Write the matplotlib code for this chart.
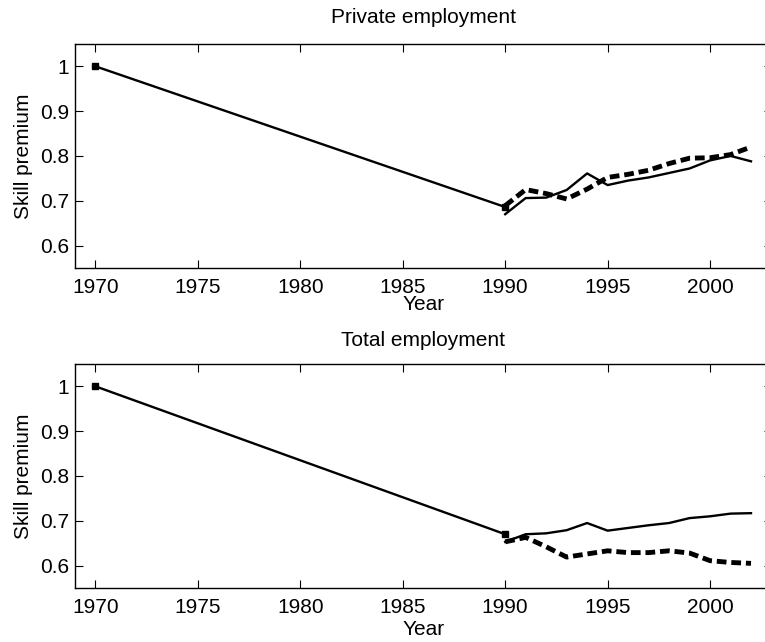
import numpy as np
import matplotlib.pyplot as plt

plt.rcParams['font.family'] = ['Liberation Sans', 'DejaVu Sans']

years = [1990, 1991, 1992, 1993, 1994, 1995, 1996, 1997, 1998, 1999, 2000, 2001, 2002]
anchor_years = [1970, 1990]

# Private employment
priv_anchor = [1.0, 0.686]
priv_solid = [0.670, 0.706, 0.707, 0.724, 0.761, 0.735, 0.745, 0.752, 0.762, 0.772, 0.790, 0.800, 0.788]
priv_dashed = [0.689, 0.725, 0.716, 0.704, 0.726, 0.752, 0.759, 0.768, 0.783, 0.795, 0.796, 0.803, 0.820]

# Total employment
tot_anchor = [1.0, 0.670]
tot_solid = [0.653, 0.670, 0.672, 0.679, 0.695, 0.678, 0.684, 0.690, 0.695, 0.706, 0.710, 0.716, 0.717]
tot_dashed = [0.653, 0.663, 0.642, 0.619, 0.626, 0.633, 0.629, 0.629, 0.633, 0.628, 0.611, 0.607, 0.605]

yticks = [0.6, 0.7, 0.8, 0.9, 1.0]
ytick_labels = ['0.6', '0.7', '0.8', '0.9', '1']
xticks = [1970, 1975, 1980, 1985, 1990, 1995, 2000]

fig = plt.figure(figsize=(7.65, 6.42), dpi=100)
ax1 = fig.add_axes([0.098, 0.5826, 0.9105, 0.349])
ax2 = fig.add_axes([0.098, 0.0841, 0.9105, 0.349])


def draw(ax, title, anchor, solid, dashed, tpad, xpad):
    ax.plot(anchor_years, anchor, color='k', lw=1.7, marker='s', ms=4)
    ax.plot(years, solid, color='k', lw=1.7)
    ax.plot(years, dashed, color='k', lw=3.5, ls=(0, (2.0, 1.0)))
    ax.set_xlim(1969, 2003)
    ax.set_ylim(0.55, 1.05)
    ax.set_xticks(xticks)
    ax.set_yticks(yticks)
    ax.set_yticklabels(ytick_labels)
    ax.tick_params(direction='in', length=6, width=0.8, top=True, right=True,
                   labelsize=15)
    ax.tick_params(axis='x', pad=7)
    ax.tick_params(axis='y', pad=4)
    for s in ax.spines.values():
        s.set_linewidth(1.0)
    ax.set_title(title, fontsize=15, pad=tpad)
    ax.set_xlabel('Year', fontsize=15, labelpad=xpad)
    ax.set_ylabel('Skill premium', fontsize=15, labelpad=5)


draw(ax1, 'Private employment', priv_anchor, priv_solid, priv_dashed, 15, -1)
draw(ax2, 'Total employment', tot_anchor, tot_solid, tot_dashed, 13, 2)

fig.savefig('out.png', dpi=100)
